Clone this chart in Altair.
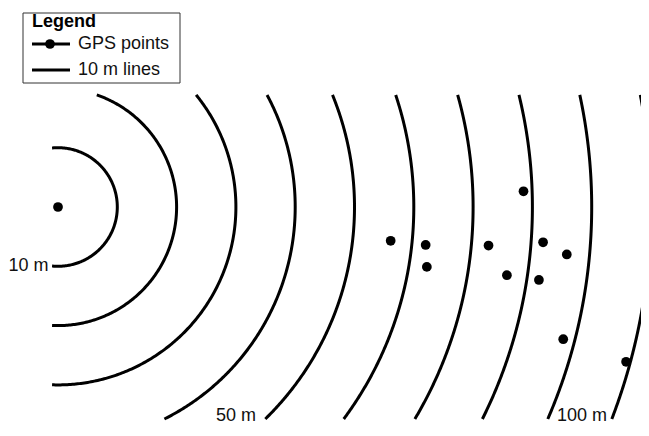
import altair as alt
import numpy as np
import pandas as pd

# ---------------- data (metres, east / north of the first GPS fix) ----------------
gps_x = [0.0, 56.1, 62.0, 62.2, 72.6, 78.5, 81.8, 85.8, 75.7, 81.1, 85.2, 95.8]
gps_y = [0.0, -5.7, -6.4, -10.1, -6.5, 2.65, -5.95, -8.0, -11.5, -12.3, -22.3, -26.1]

ring_radii = [10, 20, 30, 40, 50, 60, 70, 80, 90, 100]

label_text = ["10 m", "50 m", "100 m"]
label_x = [-1.6, 33.4, 92.6]
label_y = [-9.87, -35.3, -35.3]

legend_title = "Legend"
legend_labels = ["GPS points", "10 m lines"]

# visible window of the rings (metres)
ring_top, ring_bottom, ring_left = 18.9, -35.75, -1.0

# ---------------- geometry of the rings ----------------
rows = []
for r in ring_radii:
    t_hi = np.arcsin(ring_top / r) if r > ring_top else np.arccos(ring_left / r)
    t_lo = -np.arcsin(-ring_bottom / r) if r > -ring_bottom else -np.arccos(ring_left / r)
    for i, t in enumerate(np.linspace(t_lo, t_hi, 240)):
        rows.append({"r": r, "i": i, "x": r * np.cos(t), "y": r * np.sin(t)})
rings = pd.DataFrame(rows)
points = pd.DataFrame({"x": gps_x, "y": gps_y})
labels = pd.DataFrame({"text": label_text, "x": label_x, "y": label_y})
one = pd.DataFrame({"_": [0]})

W, H = 633, 420
PX = 5.93  # pixels per metre
xmin = -50 / PX
xmax = xmin + W / PX
ymax = 199 / PX
ymin = ymax - H / PX

FONT = "Liberation Sans, Arial, Helvetica, sans-serif"
xs = alt.Scale(domain=[xmin, xmax], nice=False, zero=False)
ys = alt.Scale(domain=[ymin, ymax], nice=False, zero=False)

ring_layer = alt.Chart(rings).mark_line(color="black", strokeWidth=3, clip=True).encode(
    x=alt.X("x:Q", scale=xs, axis=None),
    y=alt.Y("y:Q", scale=ys, axis=None),
    detail="r:N",
    order="i:Q",
)

point_layer = alt.Chart(points).mark_circle(color="black", size=95, opacity=1).encode(
    x=alt.X("x:Q", scale=xs, axis=None),
    y=alt.Y("y:Q", scale=ys, axis=None),
)

label_layer = alt.Chart(labels).mark_text(
    align="right", baseline="middle", fontSize=18, font=FONT, color="#111"
).encode(
    x=alt.X("x:Q", scale=xs, axis=None),
    y=alt.Y("y:Q", scale=ys, axis=None),
    text="text:N",
)

# ---------------- legend ----------------
leg_box = alt.Chart(one).mark_rect(fill="white", stroke="#333", strokeWidth=1).encode(
    x=alt.value(15), x2=alt.value(172), y=alt.value(5), y2=alt.value(75)
)
leg_title = alt.Chart(one).mark_text(
    align="left", baseline="alphabetic", fontSize=18, fontWeight="bold", font=FONT, color="black"
).encode(x=alt.value(24), y=alt.value(18.7), text=alt.value(legend_title))
leg_line1 = alt.Chart(one).mark_rule(color="black", strokeWidth=3).encode(
    x=alt.value(24), x2=alt.value(62), y=alt.value(36)
)
leg_dot = alt.Chart(one).mark_circle(color="black", size=95, opacity=1).encode(
    x=alt.value(42), y=alt.value(36)
)
leg_text1 = alt.Chart(one).mark_text(
    align="left", baseline="middle", fontSize=18, font=FONT, color="#111"
).encode(x=alt.value(70), y=alt.value(36), text=alt.value(legend_labels[0]))
leg_line2 = alt.Chart(one).mark_rule(color="black", strokeWidth=3).encode(
    x=alt.value(24), x2=alt.value(62), y=alt.value(62)
)
leg_text2 = alt.Chart(one).mark_text(
    align="left", baseline="middle", fontSize=18, font=FONT, color="#111"
).encode(x=alt.value(70), y=alt.value(62), text=alt.value(legend_labels[1]))

chart = alt.layer(
    ring_layer, point_layer, label_layer,
    leg_box, leg_title, leg_line1, leg_dot, leg_text1, leg_line2, leg_text2,
).properties(
    width=W, height=H, padding=0, autosize=alt.AutoSizeParams(type="none"), background="white"
).configure_view(stroke=None)

chart.save("out.html", embed_options={"renderer": "svg", "actions": False})
